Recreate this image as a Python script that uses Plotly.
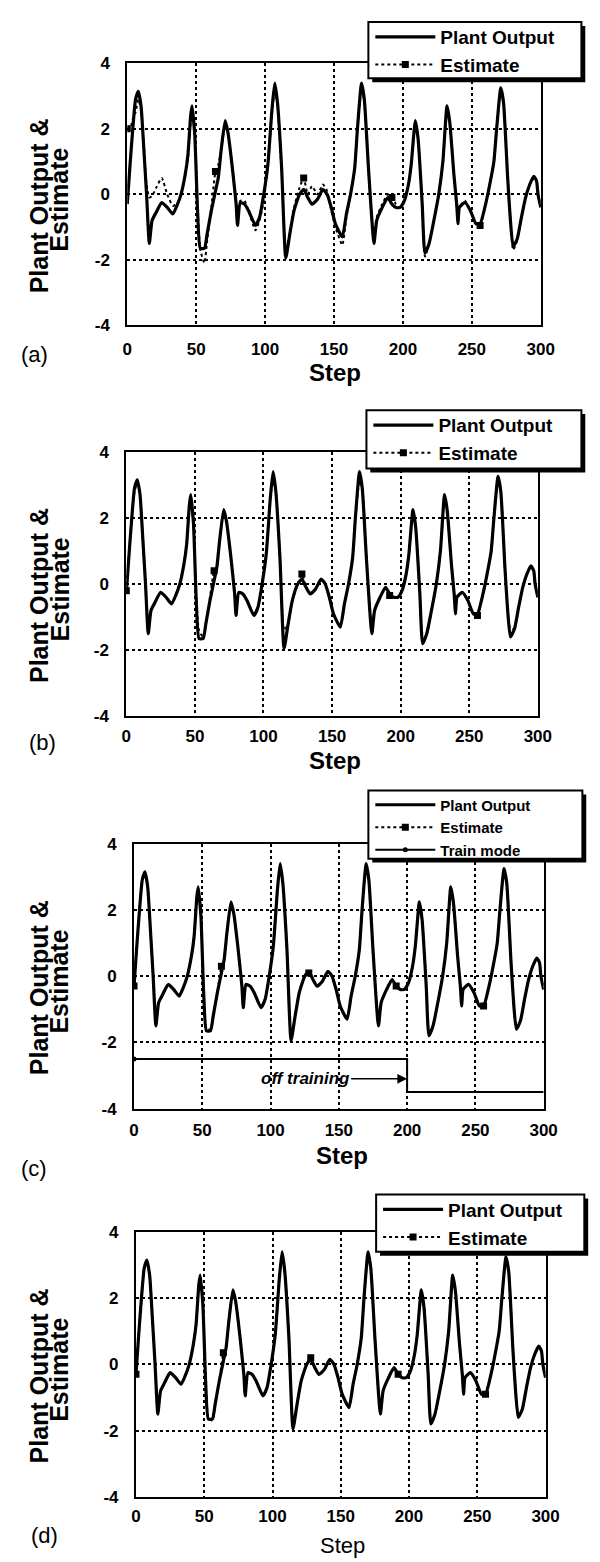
import plotly.graph_objects as go

# ---------------- data ----------------
steps = [0, 2, 4, 6, 8, 10, 12, 14, 16, 18,
         21, 25, 29, 33, 36, 39, 42, 44, 46, 47,
         49, 51, 53, 56, 58, 61, 64, 66, 68, 71,
         73, 76, 79, 80, 82, 85, 88, 93, 96, 99,
         102, 105, 107, 109, 112, 115, 118, 121, 125, 128,
         131, 134, 138, 142, 145, 148, 151, 156, 159, 162,
         165, 167, 170, 172, 175, 179, 181, 185, 189, 192,
         195, 198, 201, 204, 206, 209, 211, 214, 216, 219,
         222, 226, 229, 232, 234, 237, 239, 240, 241, 245,
         249, 253, 256, 260, 263, 266, 268, 271, 273, 276,
         278, 280, 283, 286, 289, 292, 295, 297, 298, 300]

plant_output = [-0.3, 0.9, 2.0, 2.9, 3.15, 2.7, 1.4, 0.0, -1.5, -0.8,
                -0.55, -0.25, -0.4, -0.6, -0.35, 0.0, 0.6, 1.2, 2.4, 2.7,
                1.8, -0.5, -1.65, -1.65, -1.2, -0.5, 0.1, 0.5, 1.3, 2.25,
                1.9, 0.9, -0.3, -0.95, -0.25, -0.3, -0.5, -0.95, -0.7, 0.0,
                0.9, 2.6, 3.4, 2.8, 0.8, -1.95, -1.2, -0.5, 0.0, 0.15,
                -0.1, -0.3, -0.15, 0.15, 0.0, -0.4, -0.9, -1.3, -0.6, 0.0,
                0.8, 2.0, 3.4, 2.9, 0.8, -1.5, -0.8, -0.4, -0.1, -0.3,
                -0.4, -0.4, -0.2, 0.3, 0.9, 2.25, 1.7, -0.3, -1.8, -1.5,
                -0.9, 0.0, 1.0, 2.7, 2.2, 0.6, -0.3, -0.9, -0.4, -0.25,
                -0.5, -0.9, -0.9, -0.3, 0.3, 1.0, 2.0, 3.25, 2.8, 0.5,
                -0.8, -1.6, -1.35, -0.7, -0.1, 0.3, 0.55, 0.4, 0.0, -0.4]

estimate_a = [2.0, 2.0, 2.3, 2.5, 2.9, 2.6, 1.5, 0.3, -0.1, -0.05,
              0.2, 0.5, 0.0, -0.35, -0.3, 0.0, 0.6, 1.1, 2.2, 2.5,
              1.9, -0.4, -1.7, -2.1, -1.4, -0.4, 0.7, 0.9, 1.3, 2.1,
              1.9, 0.9, -0.3, -0.9, -0.2, -0.2, -0.5, -1.1, -0.8, -0.2,
              0.9, 2.5, 3.1, 2.7, 0.7, -1.8, -1.1, -0.4, 0.2, 0.5,
              0.0, 0.25, 0.0, 0.3, 0.1, -0.5, -1.0, -1.55, -0.7, 0.0,
              0.8, 2.0, 3.3, 2.8, 0.8, -1.4, -0.7, -0.3, 0.0, -0.1,
              -0.3, -0.4, -0.2, 0.3, 0.9, 2.2, 1.7, -0.3, -1.9, -1.5,
              -0.9, 0.0, 1.0, 2.6, 2.2, 0.6, -0.3, -0.85, -0.4, -0.2,
              -0.5, -0.9, -0.95, -0.3, 0.3, 1.0, 2.0, 3.2, 2.8, 0.5,
              -0.8, -1.7, -1.4, -0.7, -0.1, 0.3, 0.5, 0.4, 0.0, -0.4]

estimate_b = [-0.2, 0.9, 2.0, 2.8, 3.05, 2.7, 1.4, 0.0, -1.4, -0.8,
              -0.55, -0.25, -0.4, -0.6, -0.35, 0.0, 0.6, 1.2, 2.4, 2.6,
              1.8, -0.4, -1.4, -1.6, -1.2, -0.4, 0.4, 0.5, 1.3, 2.2,
              1.9, 0.9, -0.3, -0.8, -0.25, -0.3, -0.5, -0.9, -0.7, 0.0,
              0.9, 2.6, 3.1, 2.8, 0.8, -1.4, -1.2, -0.5, 0.0, 0.3,
              -0.1, -0.3, -0.15, 0.15, 0.0, -0.4, -0.9, -1.3, -0.6, 0.0,
              0.8, 2.0, 3.1, 2.9, 0.8, -1.4, -0.8, -0.4, -0.1, -0.35,
              -0.4, -0.4, -0.2, 0.3, 0.9, 2.2, 1.7, -0.3, -1.5, -1.5,
              -0.9, 0.0, 1.0, 2.6, 2.2, 0.6, -0.3, -0.9, -0.4, -0.25,
              -0.5, -0.9, -0.95, -0.3, 0.3, 1.0, 2.0, 3.2, 2.8, 0.5,
              -0.8, -1.35, -1.35, -0.7, -0.1, 0.3, 0.5, 0.4, 0.0, -0.4]

estimate_c = [-0.3, 0.9, 2.0, 2.9, 3.1, 2.7, 1.4, 0.0, -1.5, -0.8,
              -0.55, -0.25, -0.4, -0.6, -0.35, 0.0, 0.6, 1.2, 2.4, 2.6,
              1.8, -0.5, -1.6, -1.6, -1.2, -0.5, 0.3, 0.5, 1.3, 2.2,
              1.9, 0.9, -0.3, -0.9, -0.25, -0.3, -0.5, -0.95, -0.7, 0.0,
              0.9, 2.6, 3.3, 2.8, 0.8, -1.9, -1.2, -0.5, 0.0, 0.1,
              -0.1, -0.3, -0.15, 0.15, 0.0, -0.4, -0.9, -1.3, -0.6, 0.0,
              0.8, 2.0, 3.3, 2.9, 0.8, -1.5, -0.8, -0.4, -0.1, -0.3,
              -0.4, -0.4, -0.2, 0.3, 0.9, 2.2, 1.7, -0.3, -1.8, -1.5,
              -0.9, 0.0, 1.0, 2.6, 2.2, 0.6, -0.3, -0.9, -0.4, -0.25,
              -0.5, -0.9, -0.9, -0.3, 0.3, 1.0, 2.0, 3.2, 2.8, 0.5,
              -0.8, -1.6, -1.35, -0.7, -0.1, 0.3, 0.55, 0.4, 0.0, -0.4]

estimate_d = [-0.3, 0.9, 2.0, 2.9, 3.1, 2.7, 1.4, 0.0, -1.5, -0.8,
              -0.55, -0.25, -0.4, -0.6, -0.35, 0.0, 0.6, 1.2, 2.4, 2.6,
              1.8, -0.5, -1.6, -1.7, -1.2, -0.5, 0.35, 0.5, 1.3, 2.2,
              1.9, 0.9, -0.3, -0.95, -0.25, -0.3, -0.5, -0.95, -0.7, 0.0,
              0.9, 2.6, 3.3, 2.8, 0.8, -1.9, -1.2, -0.5, 0.0, 0.2,
              -0.1, -0.3, -0.15, 0.15, 0.0, -0.4, -0.9, -1.3, -0.6, 0.0,
              0.8, 2.0, 3.3, 2.9, 0.8, -1.5, -0.8, -0.4, -0.1, -0.3,
              -0.4, -0.4, -0.2, 0.3, 0.9, 2.2, 1.7, -0.3, -1.8, -1.5,
              -0.9, 0.0, 1.0, 2.6, 2.2, 0.6, -0.3, -0.9, -0.4, -0.25,
              -0.5, -0.9, -0.9, -0.3, 0.3, 1.0, 2.0, 3.2, 2.8, 0.5,
              -0.8, -1.6, -1.35, -0.7, -0.1, 0.3, 0.55, 0.4, 0.0, -0.4]

estimate_marker_steps = [0, 64, 128, 192, 256]

train_steps = [0, 200, 300]
train_mode = [-2.5, -3.5, -3.5]

x_ticks = [0, 50, 100, 150, 200, 250, 300]
x_tick_text = ["0", "50", "100", "150", "200", "250", "300"]
y_ticks = [-4, -2, 0, 2, 4]
y_tick_text = ["-4", "-2", "0", "2", "4"]

panel_labels = ["(a)", "(b)", "(c)", "(d)"]
estimates = [estimate_a, estimate_b, estimate_c, estimate_d]

# ---------------- layout geometry (pixels) ----------------
W, H = 600, 1562
FONT = "Liberation Sans, Arial, Helvetica, sans-serif"

# plot boxes: left, right, top, bottom
boxes = [(118, 545, 47, 312), (117, 542, 440, 708),
         (125, 548, 837, 1105), (127, 550, 1230, 1498)]
x_label_standoff = [7, 3, 5, 3]
# legend frames: left, top, right, bottom
legend_boxes = [(367, 5, 587, 62), (365, 398, 587, 457),
                (367, 783, 588, 852), (375, 1192, 590, 1250)]
legend_font = [19, 19, 15, 19]
legend_shift = [-4, -4, -2, -4]
label_pos = [(22, 342), (30, 734), (22, 1166), (33, 1537)]
step_pos = [(333, 360), (333, 753), (340, 1153), (340, 1547)]
step_font = [24, 24, 24, 22]


def fx(p):
    return p / W


def fy(p):
    return 1 - p / H


fig = go.Figure()
marker_colors = ["black" if s in estimate_marker_steps else "rgba(0,0,0,0)" for s in steps]

shapes = []
annotations = []
for i in range(4):
    n = "" if i == 0 else str(i + 1)
    leg = "legend" if i == 0 else "legend" + str(i + 1)
    fig.add_trace(go.Scatter(
        x=steps, y=plant_output, name="Plant Output", mode="lines",
        line=dict(color="black", width=3.2, shape="spline", smoothing=0.5),
        xaxis="x" + n, yaxis="y" + n, legend=leg))
    fig.add_trace(go.Scatter(
        x=steps, y=estimates[i], name="Estimate", mode="lines+markers",
        line=dict(color="black", width=2, dash="dot", shape="spline", smoothing=0.5),
        marker=dict(symbol="square", size=7, color=marker_colors, line=dict(width=0)),
        xaxis="x" + n, yaxis="y" + n, legend=leg))
    if i == 2:
        fig.add_trace(go.Scatter(
            x=train_steps, y=train_mode, name="Train mode", mode="lines+markers",
            line=dict(color="black", width=2, shape="hv"),
            marker=dict(symbol="circle", size=5,
                        color=["black", "rgba(0,0,0,0)", "rgba(0,0,0,0)"]),
            xaxis="x" + n, yaxis="y" + n, legend=leg))

    l, r, t, b = boxes[i]
    axis_common = dict(showline=True, mirror=True, linecolor="black", linewidth=2,
                       showgrid=True, gridcolor="black", griddash="dot", gridwidth=1.5,
                       zeroline=False, ticks="",
                       tickfont=dict(family=FONT, size=17, color="black", weight="bold"))
    fig.layout["xaxis" + n] = dict(axis_common, domain=[fx(l), fx(r)], range=[0, 300],
                                   tickvals=x_ticks, ticktext=x_tick_text,
                                   anchor="y" + n, ticklabelstandoff=x_label_standoff[i])
    fig.layout["yaxis" + n] = dict(axis_common, domain=[fy(b), fy(t)], range=[-4, 4],
                                   tickvals=y_ticks, ticktext=y_tick_text,
                                   anchor="x" + n, ticklabelstandoff=12)

    # legend frame with drop shadow
    L0, T0, R0, B0 = legend_boxes[i]
    shapes.append(dict(type="rect", xref="paper", yref="paper", layer="above",
                       x0=fx(L0 + 4), x1=fx(R0 + 4), y0=fy(B0 + 4), y1=fy(T0 + 4),
                       fillcolor="black", line=dict(width=0)))
    shapes.append(dict(type="rect", xref="paper", yref="paper", layer="above",
                       x0=fx(L0), x1=fx(R0), y0=fy(B0), y1=fy(T0),
                       fillcolor="white", line=dict(color="black", width=2)))
    fig.layout[leg] = dict(x=fx(L0 + 2), y=fy(T0 + legend_shift[i]),
                           xanchor="left", yanchor="top",
                           bgcolor="rgba(0,0,0,0)", borderwidth=0, itemwidth=60,
                           font=dict(family=FONT, size=legend_font[i], color="black",
                                     weight="bold"))

    # axis titles and panel label (explicitly centred)
    cy = (t + b) / 2
    annotations.append(dict(xref="paper", yref="paper", x=fx(27), y=fy(cy + 12),
                            xanchor="center", yanchor="middle",
                            text="Plant Output &", textangle=-90, showarrow=False,
                            font=dict(family=FONT, size=25, color="black", weight="bold")))
    annotations.append(dict(xref="paper", yref="paper", x=fx(48), y=fy(cy + 5),
                            xanchor="center", yanchor="middle",
                            text="Estimate", textangle=-90, showarrow=False,
                            font=dict(family=FONT, size=25, color="black", weight="bold")))
    sx, sy = step_pos[i]
    annotations.append(dict(xref="paper", yref="paper", x=fx(sx), y=fy(sy),
                            xanchor="center", yanchor="middle",
                            text="Step", showarrow=False,
                            font=dict(family=FONT, size=step_font[i], color="black",
                                      weight="bold" if i < 3 else "normal")))
    px_, py_ = label_pos[i]
    annotations.append(dict(xref="paper", yref="paper", x=fx(px_), y=fy(py_),
                            xanchor="center", yanchor="middle",
                            text=panel_labels[i], showarrow=False,
                            font=dict(family=FONT, size=22, color="black")))

# "off training" arrow in panel (c)
annotations.append(dict(xref="x3", yref="y3", x=200, y=-3.1, ax=-102, ay=0,
                        text="<i>off training</i>", showarrow=True,
                        arrowhead=2, arrowsize=1.3, arrowwidth=1.5, arrowcolor="black",
                        font=dict(family=FONT, size=17, color="black", weight="bold")))

fig.update_layout(width=W, height=H, margin=dict(l=0, r=0, t=0, b=0),
                  paper_bgcolor="white", plot_bgcolor="white",
                  showlegend=True, shapes=shapes, annotations=annotations)

fig.write_html("out.html")
